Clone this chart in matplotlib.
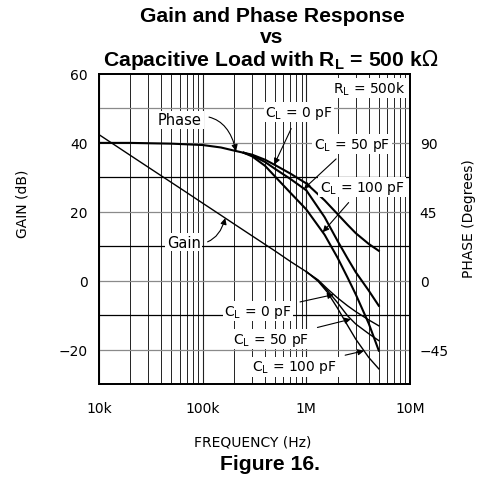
import numpy as np
import matplotlib
matplotlib.use('Agg')
import matplotlib.pyplot as plt

# Gain (dB), shared part below 1 MHz
gain_freq = [1e4, 2e4, 3e4, 5e4, 7e4, 1e5, 1.5e5, 2e5, 3e5, 5e5, 7e5, 1e6]
gain_db = [42.4, 36.4, 32.9, 28.5, 25.6, 22.5, 19.0, 16.5, 13.0, 8.6, 5.6, 2.6]

# Gain tails for each load capacitance
tail_freq = [1e6, 1.3e6, 1.6e6, 2e6, 2.5e6, 3e6, 4e6, 5e6]
gain_cl0 = [2.6, 0.2, -2.4, -5.0, -7.3, -9.0, -11.4, -13.1]
gain_cl50 = [2.6, 0.0, -2.9, -6.4, -10.2, -12.6, -15.4, -17.4]
gain_cl100 = [2.6, -0.2, -3.4, -8.0, -13.0, -17.0, -22.3, -25.6]

# Phase (degrees), shared part
phase_freq = [1e4, 2e4, 5e4, 1e5, 1.5e5, 2e5, 2.5e5]
phase_deg = [90.0, 90.0, 89.5, 88.6, 87.0, 85.0, 83.5]

ptail_freq = [2.5e5, 3e5, 4e5, 5e5, 7e5, 1e6, 1.5e6, 2e6, 2.5e6, 3e6, 4e6, 5e6]
phase_cl0 = [83.5, 82.3, 79.0, 75.5, 70.0, 63.5, 52.5, 43.5, 36.5, 31.0, 24.0, 19.5]
phase_cl50 = [83.5, 81.8, 77.5, 73.0, 66.5, 59.0, 41.5, 26.0, 14.5, 5.5, -6.5, -16.4]
phase_cl100 = [83.5, 81.2, 75.0, 68.0, 57.5, 46.5, 30.0, 15.0, 2.0, -9.0, -28.0, -45.7]

gain_ticks = [60, 40, 20, 0, -20]
phase_ticks = [90, 45, 0, -45]
freq_ticks = [1e4, 1e5, 1e6, 1e7]
freq_labels = ['10k', '100k', '1M', '10M']

W, H = 479, 485
fig = plt.figure(figsize=(W / 100, H / 100), dpi=100)
ax = fig.add_axes([99 / W, 1 - 385 / H, 311 / W, 310 / H])
ax.set_xscale('log')
ax.set_xlim(1e4, 1e7)
ax.set_ylim(-30, 60)

# grid: decades of log paper plus every 10 dB
for dec in [1e4, 1e5, 1e6]:
    for m in range(2, 10):
        ax.axvline(dec * m, color='#222222', lw=0.7, zorder=1)
    ax.axvline(dec, color='#222222', lw=0.8, zorder=1)
for g in range(-20, 60, 10):
    col = 'black' if g in (30, 10, -10) else '#8a8a8a'
    ax.axhline(g, color=col, lw=0.9, zorder=1)

ax.set_xticks(freq_ticks)
ax.set_xticklabels(freq_labels)
ax.xaxis.set_minor_locator(matplotlib.ticker.NullLocator())
ax.set_yticks(gain_ticks)
ax.set_yticklabels([str(t).replace('-', '\u2212') for t in gain_ticks])
ax.tick_params(length=0, labelsize=10, pad=8)
ax.tick_params(axis='x', pad=12)
for s in ax.spines.values():
    s.set_linewidth(1.3)

ax2 = ax.twinx()
ax2.set_ylim(-30 * 2.25, 60 * 2.25)
ax2.set_yticks(phase_ticks)
ax2.set_yticklabels([str(t).replace('-', '\u2212') for t in phase_ticks])
ax2.tick_params(length=0, labelsize=10, pad=7)
for s in ax2.spines.values():
    s.set_linewidth(1.3)

fig.text(23 / W, 1 - 204 / H, 'GAIN (dB)', rotation=90, ha='center', va='center', fontsize=10)
fig.text(469 / W, 1 - 219 / H, 'PHASE (Degrees)', rotation=90, ha='center', va='center', fontsize=10)
fig.text(253 / W, 1 - 443 / H, 'FREQUENCY (Hz)', ha='center', va='center', fontsize=10)

# curves
ax.plot(gain_freq, gain_db, color='black', lw=1.0, zorder=3)
for g in (gain_cl0, gain_cl50, gain_cl100):
    ax.plot(tail_freq, g, color='black', lw=1.0, zorder=3)
ax2.plot(phase_freq, phase_deg, color='black', lw=1.5, zorder=3)
for p in (phase_cl0, phase_cl50, phase_cl100):
    ax2.plot(ptail_freq, p, color='black', lw=1.5, zorder=3)


def on_curve(fx, fr, vals):
    return fx, np.interp(np.log10(fx), np.log10(fr), vals)


box = dict(boxstyle='square,pad=0.12', fc='white', ec='none')
arr = dict(arrowstyle='-|>', color='black', lw=0.8, mutation_scale=9, shrinkA=0, shrinkB=0)
fs = 10

ax.text(0.985, 0.955, r'R$_\mathregular{L}$ = 500k', transform=ax.transAxes,
        ha='right', va='center', fontsize=fs, bbox=box, zorder=5)

# Phase / Gain curved callouts
ax2.annotate('Phase', xy=on_curve(2.1e5, phase_freq, phase_deg), xytext=(0.26, 0.852),
             textcoords='axes fraction', ha='center', va='center', fontsize=10.5, bbox=box, zorder=5,
             arrowprops=dict(arr, connectionstyle='arc3,rad=-0.55', shrinkA=4))
ax.annotate('Gain', xy=on_curve(1.65e5, gain_freq, gain_db), xytext=(0.272, 0.458),
            textcoords='axes fraction', ha='center', va='center', fontsize=10.5, bbox=box, zorder=5,
            arrowprops=dict(arr, connectionstyle='arc3,rad=0.5', shrinkA=4))

# phase load labels
ax2.annotate(r'C$_\mathregular{L}$ = 0 pF', xy=on_curve(4.9e5, ptail_freq, phase_cl0),
             xytext=(0.643, 0.877), textcoords='axes fraction', ha='center', va='center',
             fontsize=fs, bbox=box, zorder=5, arrowprops=dict(arr, shrinkA=5))
ax2.annotate(r'C$_\mathregular{L}$ = 50 pF', xy=on_curve(9.5e5, ptail_freq, phase_cl50),
             xytext=(0.814, 0.774), textcoords='axes fraction', ha='center', va='center',
             fontsize=fs, bbox=box, zorder=5, arrowprops=dict(arr, shrinkA=5))
ax2.annotate(r'C$_\mathregular{L}$ = 100 pF', xy=on_curve(1.44e6, ptail_freq, phase_cl100),
             xytext=(0.846, 0.635), textcoords='axes fraction', ha='center', va='center',
             fontsize=fs, bbox=box, zorder=5, arrowprops=dict(arr, shrinkA=5))

# gain load labels
ax.annotate(r'C$_\mathregular{L}$ = 0 pF', xy=on_curve(1.84e6, tail_freq, gain_cl0),
            xytext=(0.511, 0.235), textcoords='axes fraction', ha='center', va='center',
            fontsize=fs, bbox=box, zorder=5, arrowprops=dict(arr, shrinkA=5))
ax.annotate(r'C$_\mathregular{L}$ = 50 pF', xy=on_curve(2.69e6, tail_freq, gain_cl50),
            xytext=(0.553, 0.145), textcoords='axes fraction', ha='center', va='center',
            fontsize=fs, bbox=box, zorder=5, arrowprops=dict(arr, shrinkA=5))
ax.annotate(r'C$_\mathregular{L}$ = 100 pF', xy=on_curve(3.6e6, tail_freq, gain_cl100),
            xytext=(0.63, 0.055), textcoords='axes fraction', ha='center', va='center',
            fontsize=fs, bbox=box, zorder=5, arrowprops=dict(arr, shrinkA=5))

tf = dict(family='Liberation Sans', weight='bold', fontsize=15.2, ha='center', va='center')
fig.text(272 / W, 1 - 17 / H, 'Gain and Phase Response', **tf)
fig.text(272 / W, 1 - 38 / H, 'vs', **tf)
fig.text(271 / W, 1 - 60 / H, r'Capacitive Load with R$_\mathregular{L}$ = 500 k$\Omega$', **tf)
fig.text(270 / W, 1 - 465 / H, 'Figure 16.', **tf)

fig.savefig('out.png', dpi=100)
